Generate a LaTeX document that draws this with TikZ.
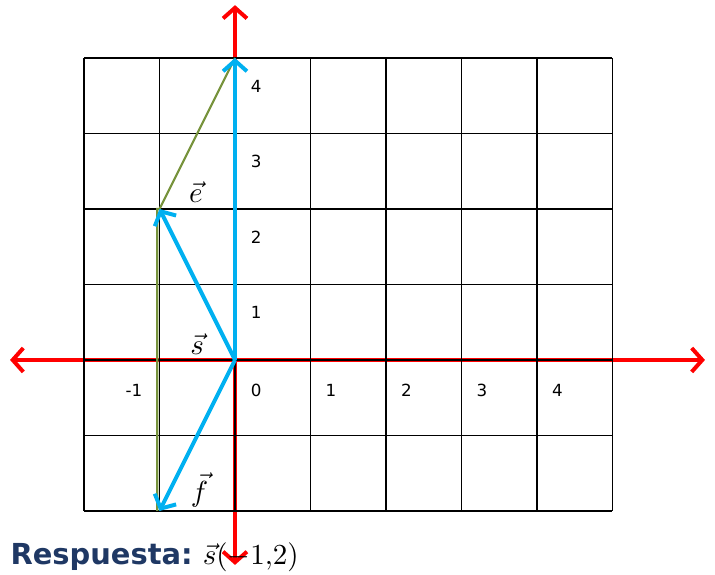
\documentclass[tikz,border=0pt]{standalone}
\usepackage{amsmath}
\usepackage{fontspec}
\setsansfont{DejaVu Sans}
\usetikzlibrary{arrows.meta}
\definecolor{axred}{RGB}{255,0,0}
\definecolor{vecblue}{RGB}{0,176,240}
\definecolor{olv}{RGB}{119,147,60}
\definecolor{ansblue}{RGB}{31,56,100}
\begin{document}
\begin{tikzpicture}[>={Straight Barb[length=4pt,width=9pt]},x=1cm,y=1cm]
\tikzset{ax/.style={axred,line width=1.5pt,<->},vec/.style={vecblue,line width=1.5pt,->},olvline/.style={olv,line width=0.8pt},tick/.style={inner sep=0pt,font=\sffamily\fontsize{6.3}{7}\selectfont},vlbl/.style={inner sep=0pt,font=\fontsize{11}{12}\selectfont}}
\useasboundingbox (-3.113,-2.848) rectangle (6.358,4.768);
\coordinate (O) at (0,0); \coordinate (T) at (0,4); \coordinate (E) at (-1,2); \coordinate (F) at (-1,-2);
\coordinate (xl) at (-2.98,0); \coordinate (xr) at (6.225,0); \coordinate (yb) at (0,-2.715); \coordinate (yt) at (0,4.70);
\coordinate (ob) at (-1.03,-2); \coordinate (ot) at (-1.03,2);
\draw[ax](xl)--(xr); \draw[ax](yb)--(yt);
\draw[line width=0.7pt](-2,-2) grid (5,4);
\draw[olvline](ob)--(ot)--(E)--(T);
\draw[vec](O)--(T); \draw[vec](O)--(E); \draw[vec](O)--(F);
\node[tick] (y1) at (0.28,0.63) {1}; \node[tick] (y2) at (0.28,1.63) {2}; \node[tick] (y3) at (0.28,2.63) {3}; \node[tick] (y4) at (0.28,3.63) {4};
\node[tick] (xm1) at (-1.34,-0.40) {-1}; \node[tick] (x0) at (0.28,-0.40) {0}; \node[tick] (x1) at (1.27,-0.40) {1}; \node[tick] (x2) at (2.27,-0.40) {2}; \node[tick] (x3) at (3.27,-0.40) {3}; \node[tick] (x4) at (4.27,-0.40) {4};
\node[vlbl] (le) at (-0.52,2.22) {$\vec{e}$}; \node[vlbl] (ls) at (-0.50,0.21) {$\vec{s}$}; \node[vlbl] (lf) at (-0.47,-1.72) {$\vec{f}$};
\node[anchor=base west,inner sep=0pt] (resp) at (-2.98,-2.715) {\sffamily\bfseries\fontsize{10.9}{13}\selectfont\color{ansblue}Respuesta:\ {\color{black}$\vec{s}(-1{,}2)$}};
\end{tikzpicture}
\end{document}
